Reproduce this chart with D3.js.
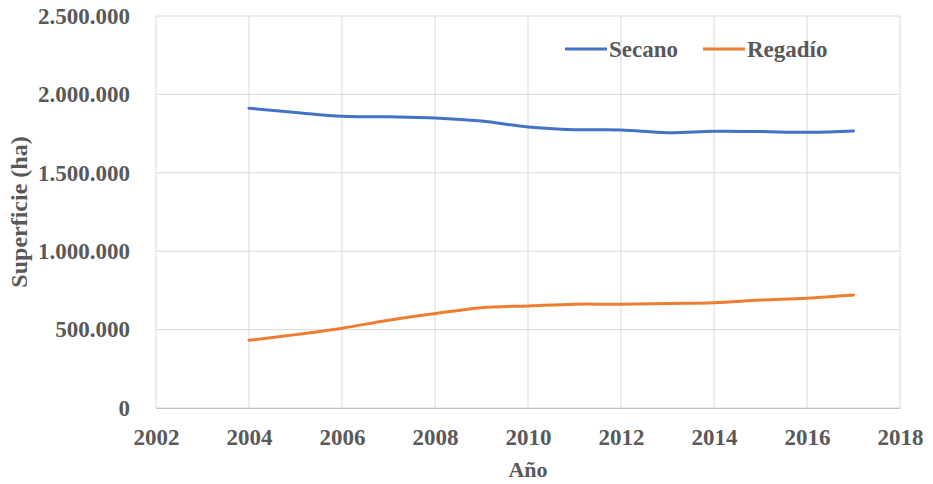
<!DOCTYPE html>
<html><head><meta charset="utf-8">
<script src="https://cdn.jsdelivr.net/npm/d3@7"></script>
<style>body{margin:0;background:#fff}svg{display:block}</style>
</head><body>
<script>
const years = [2004,2005,2006,2007,2008,2009,2010,2011,2012,2013,2014,2015,2016,2017];
const secano = [1912000,1885000,1860000,1857000,1850000,1830000,1792000,1775000,1773000,1756000,1765000,1763000,1758000,1767000];
const regadio = [432000,468000,509000,560000,602000,640000,651000,662000,662000,667000,672000,688000,700000,720000];
const xTicks = [2002,2004,2006,2008,2010,2012,2014,2016,2018];
const yTicks = [0,500000,1000000,1500000,2000000,2500000];
const seriesNames = ["Secano","Regadío"];
const colors = ["#4472C4","#ED7D31"];

const W=933,H=484;
const m={left:156,right:33,top:16,bottom:76};
const svg=d3.select("body").append("svg").attr("width",W).attr("height",H);
const x=d3.scaleLinear().domain([2002,2018]).range([m.left,W-m.right]);
const y=d3.scaleLinear().domain([0,2500000]).range([H-m.bottom,m.top]);
const font="'Liberation Serif','Times New Roman',serif";
const txt="#595959";
const fmt=v=>d3.format(",")(v).replace(/,/g,".");

const g=svg.append("g");
g.selectAll(".hg").data(yTicks).join("line")
 .attr("x1",m.left).attr("x2",W-m.right).attr("y1",d=>y(d)).attr("y2",d=>y(d))
 .attr("stroke","#d9d9d9").attr("stroke-width",1);
g.selectAll(".vg").data(xTicks).join("line")
 .attr("y1",m.top).attr("y2",H-m.bottom).attr("x1",d=>x(d)).attr("x2",d=>x(d))
 .attr("stroke","#d9d9d9").attr("stroke-width",1);

const xa=svg.append("g").attr("transform",`translate(0,${H-m.bottom})`)
 .call(d3.axisBottom(x).tickValues(xTicks).tickFormat(d3.format("d")).tickSize(0).tickPadding(21));
xa.select(".domain").attr("stroke","#bfbfbf");
xa.selectAll("text").attr("font-family",font).attr("font-weight","bold").attr("font-size",23).attr("fill",txt);
const ya=svg.append("g").attr("transform",`translate(${m.left},0)`)
 .call(d3.axisLeft(y).tickValues(yTicks).tickFormat(fmt).tickSize(0).tickPadding(26));
ya.select(".domain").remove();
ya.selectAll("text").attr("font-family",font).attr("font-weight","bold").attr("font-size",23).attr("fill",txt);

const data=[secano,regadio];
const line=d3.line().x((d,i)=>x(years[i])).y(d=>y(d)).curve(d3.curveCatmullRom.alpha(0.5));
svg.selectAll(".ln").data(data).join("path")
 .attr("d",d=>line(d)).attr("fill","none").attr("stroke",(d,i)=>colors[i])
 .attr("stroke-width",3).attr("stroke-linecap","round");

svg.append("text").attr("x",x(2010)).attr("y",477).attr("text-anchor","middle")
 .attr("font-family",font).attr("font-weight","bold").attr("font-size",22).attr("fill",txt).text("Año");
svg.append("text").attr("transform",`translate(27,${(m.top+H-m.bottom)/2}) rotate(-90)`)
 .attr("text-anchor","middle").attr("font-family",font).attr("font-weight","bold")
 .attr("font-size",24).attr("fill",txt).text("Superficie (ha)");

const lx=[565,703];
const lg=svg.append("g");
seriesNames.forEach((n,i)=>{
  lg.append("line").attr("x1",lx[i]).attr("x2",lx[i]+42).attr("y1",49).attr("y2",49)
   .attr("stroke",colors[i]).attr("stroke-width",3);
  lg.append("text").attr("x",lx[i]+44).attr("y",57).attr("font-family",font)
   .attr("font-weight","bold").attr("font-size",23).attr("fill",txt).text(n);
});
</script>
</body></html>
